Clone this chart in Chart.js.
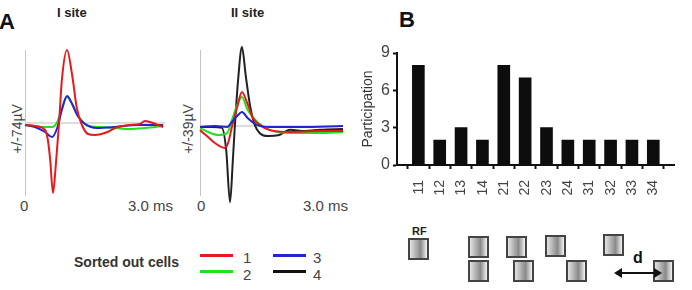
<!DOCTYPE html>
<html lang="en">
<head>
<meta charset="UTF-8">
<title>Sorted out cells and participation</title>
<style>
    body { margin: 0; background: #fff; font-family: Arial, "Liberation Sans", sans-serif; color: #333; }
    #page { position: relative; width: 692px; height: 290px; overflow: hidden; }
    .t { position: absolute; white-space: nowrap; line-height: 1; }
    canvas { position: absolute; }
    .panel { font-weight: bold; font-size: 22px; color: #111; }
    .site { font-weight: bold; font-size: 13px; color: #222; }
    .tick { font-size: 15px; color: #444; }
    .vlab { font-size: 14px; color: #444; transform: translate(-50%, -50%) rotate(-90deg); }
    .key { position: absolute; height: 3px; width: 33px; }
    .sq { position: absolute; box-sizing: border-box; width: 21px; height: 22px; border: 2px solid #444;
          background: linear-gradient(to right, #e2e2e2, #8a8a8a 62%, #f2f2f2); }
</style>
<script src="https://cdn.jsdelivr.net/npm/chart.js"></script>
</head>
<body>
<div id="page">
    <div class="t panel" style="left:-1px; top:11px;">A</div>
    <div class="t panel" style="left:399px; top:9px;">B</div>
    <div class="t site" style="left:57px; top:6px;">I site</div>
    <div class="t site" style="left:231px; top:6px;">II site</div>

    <div class="t vlab" style="left:17px; top:129px;">+/-74µV</div>
    <div class="t vlab" style="left:188px; top:129px;">+/-39µV</div>
    <div class="t tick" style="left:20px; top:198px;">0</div>
    <div class="t tick" style="left:128px; top:198px;">3.0 ms</div>
    <div class="t tick" style="left:197px; top:198px;">0</div>
    <div class="t tick" style="left:303px; top:198px;">3.0 ms</div>

    <canvas id="siteI" width="150" height="170" style="left:20px; top:40px;"></canvas>
    <canvas id="siteII" width="153" height="170" style="left:195px; top:40px;"></canvas>
    <canvas id="partB" width="332" height="170" style="left:360px; top:40px;"></canvas>

    <!-- legend -->
    <div class="t" style="left:74px; top:255px; font-size:14px; font-weight:bold; color:#333;">Sorted out cells</div>
    <div class="key" style="left:200px; top:254px; background:#e8191c;"></div>
    <div class="key" style="left:200px; top:270px; background:#22e022;"></div>
    <div class="key" style="left:273px; top:254px; background:#2424d0;"></div>
    <div class="key" style="left:273px; top:270px; background:#111;"></div>
    <div class="t tick" style="left:243px; top:250px;">1</div>
    <div class="t tick" style="left:243px; top:267px;">2</div>
    <div class="t tick" style="left:313px; top:250px;">3</div>
    <div class="t tick" style="left:313px; top:267px;">4</div>

    <!-- receptive field sketch -->
    <div class="t" style="left:412px; top:226px; font-size:11px; font-weight:bold; color:#222;">RF</div>
    <div class="sq" style="left:408px; top:238px;"></div>
    <div class="sq" style="left:468px; top:236px;"></div>
    <div class="sq" style="left:468px; top:260px;"></div>
    <div class="sq" style="left:506px; top:236px;"></div>
    <div class="sq" style="left:513px; top:260px;"></div>
    <div class="sq" style="left:545px; top:235px;"></div>
    <div class="sq" style="left:566px; top:260px;"></div>
    <div class="sq" style="left:603px; top:234px;"></div>
    <div class="sq" style="left:653px; top:260px;"></div>
    <div class="t" style="left:633px; top:250px; font-size:16px; font-weight:bold; color:#111;">d</div>
    <svg style="position:absolute; left:612px; top:265px;" width="52" height="16">
        <line x1="6" y1="8" x2="46" y2="8" stroke="#111" stroke-width="2"/>
        <polygon points="2,8 10,3 10,13" fill="#111"/>
        <polygon points="50,8 42,3 42,13" fill="#111"/>
    </svg>
</div>

<script>
    // waveforms: [time (ms), amplitude (µV)]
    const site1Red = [[0,-2],[0.21,-3],[0.43,-7],[0.49,-17],[0.54,-37],[0.60,-70],[0.66,-42],[0.73,0],[0.79,43],
        [0.90,73],[1.01,48],[1.11,15],[1.22,-2],[1.35,-11],[1.50,-12],[1.71,-10],[1.99,-4],[2.25,-2],[2.46,-1],
        [2.57,2],[2.68,1],[2.96,-4]];
    const site1Green = [[0,-2],[0.21,-3],[0.43,-4],[0.58,-4],[0.69,1],[0.79,15],[0.90,26],[1.01,19],[1.11,9],
        [1.22,2],[1.35,-3],[1.60,-4],[1.93,-5],[2.25,-6],[2.57,-5],[2.96,-3]];
    const site1Blue = [[0,-2],[0.21,-4],[0.43,-9],[0.58,-14],[0.69,-5],[0.79,13],[0.90,27],[1.01,19],[1.13,7],
        [1.26,0],[1.54,-5],[1.93,-4],[2.42,-2],[2.96,-2]];

    const site2Red = [[0,-2.2],[0.17,-5.9],[0.31,-9.1],[0.52,-11.8],[0.59,-9.1],[0.67,-0.5],[0.78,10.2],[0.88,18.3],
        [0.99,12.4],[1.11,4.3],[1.26,0.5],[1.47,-2.2],[1.89,-3.2],[2.52,-2.7],[3.0,-2.7]];
    const site2Green = [[0,-1.1],[0.17,-3.2],[0.38,-4.8],[0.57,-3.8],[0.67,3.2],[0.78,11.3],[0.88,15.6],[1.0,8.6],
        [1.2,2.2],[1.47,-2.2],[1.89,-3.8],[2.52,-3.8],[3.0,-3.2]];
    const site2Blue = [[0,-0.5],[0.31,0],[0.57,-0.5],[0.67,2.2],[0.78,5.4],[0.88,7.5],[1.0,4.3],[1.2,0.5],
        [1.47,-0.5],[2.1,-0.5],[3.0,0]];
    const site2Black = [[0,-0.5],[0.25,-0.5],[0.46,-1],[0.55,-13],[0.63,-41],[0.69,-18],[0.73,-0.5],[0.80,25],
        [0.88,42.5],[0.96,27],[1.05,11],[1.15,0.5],[1.26,-4],[1.43,-5.4],[1.64,-5],[1.89,-2],[2.2,-2.7],
        [2.52,-2],[3.0,-1.6]];
    const zeroLine = [[0,0],[3,0]];

    // panel B
    const rfPairs = ['11','12','13','14','21','22','23','24','31','32','33','34'];
    const participation = [8, 2, 3, 2, 8, 7, 3, 2, 2, 2, 2, 2];

    function pts(a) {
        return a.map(p => ({x: p[0], y: p[1]}));
    }

    function traceChart(id, sets, yMin, yMax) {
        return new Chart(document.getElementById(id), {
            type: 'line',
            data: {
                datasets: sets.map(s => ({
                    data: pts(s.data),
                    borderColor: s.color,
                    borderWidth: s.w || 2,
                    pointRadius: 0,
                    cubicInterpolationMode: 'monotone',
                    clip: false
                }))
            },
            options: {
                responsive: false,
                animation: false,
                events: [],
                layout: { padding: { left: 5, right: 5, top: 10, bottom: 15 } },
                plugins: { legend: { display: false }, tooltip: { enabled: false } },
                scales: {
                    x: { type: 'linear', min: 0, max: 3, display: false },
                    y: {
                        min: yMin, max: yMax,
                        ticks: { display: false },
                        grid: { display: false, drawTicks: false },
                        border: { display: true, dash: [3, 3], color: '#c4c4c4', width: 1 }
                    }
                }
            }
        });
    }

    traceChart('siteI', [
        { data: site1Red, color: '#e8191c' },
        { data: site1Blue, color: '#2424d0' },
        { data: site1Green, color: '#22e022' },
        { data: zeroLine, color: '#d0d0d0', w: 1.5 }
    ], -72, 73);

    traceChart('siteII', [
        { data: site2Blue, color: '#2424d0' },
        { data: site2Red, color: '#e8191c' },
        { data: site2Green, color: '#22e022' },
        { data: site2Black, color: '#222' },
        { data: zeroLine, color: '#d0d0d0', w: 1.5 }
    ], -37.1, 40.9);

    new Chart(document.getElementById('partB'), {
        type: 'bar',
        data: {
            datasets: [{
                data: participation.map((v, i) => ({x: i, y: v})),
                backgroundColor: '#0d0d0d',
                barThickness: 12
            }]
        },
        options: {
            responsive: false,
            animation: false,
            events: [],
            layout: { padding: { left: 0, right: 6, top: 13, bottom: 0 } },
            plugins: { legend: { display: false }, tooltip: { enabled: false } },
            scales: {
                x: {
                    type: 'linear', min: -1, max: 12, offset: false,
                    afterBuildTicks: ax => {
                        ax.ticks = rfPairs.map((_, i) => ({value: i - 0.5})).concat([{value: 11.5}]);
                    },
                    afterFit: ax => { ax.height = 45; },
                    grid: { offset: false, drawOnChartArea: false, tickLength: 4, tickColor: '#111', tickWidth: 2 },
                    border: { color: '#111', width: 2 },
                    ticks: {
                        autoSkip: false, minRotation: 90, maxRotation: 90, labelOffset: 11, padding: 11,
                        color: '#444', font: { size: 14, family: 'Arial' },
                        callback: (v, i) => rfPairs[i] || ''
                    }
                },
                y: {
                    min: 0, max: 9,
                    afterFit: ax => { ax.width = 37; },
                    ticks: { stepSize: 3, color: '#444', padding: 3, font: { size: 16, family: 'Arial' } },
                    title: { display: true, text: 'Participation', color: '#333', padding: 0, font: { size: 14, family: 'Arial' } },
                    grid: { drawOnChartArea: false, tickLength: 4, tickColor: '#111', tickWidth: 2 },
                    border: { color: '#111', width: 2 }
                }
            }
        }
    });
</script>
</body>
</html>
